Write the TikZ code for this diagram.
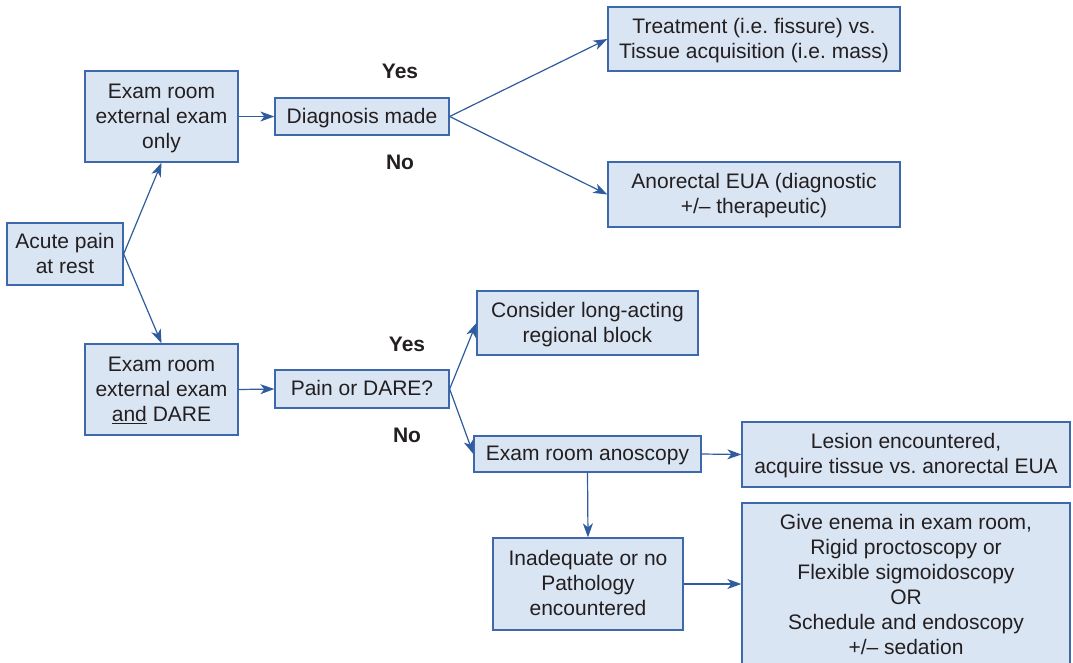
\documentclass[tikz,border=0pt]{standalone}
\usepackage{fontspec}
\setmainfont{Liberation Sans}
\usetikzlibrary{arrows.meta}
\definecolor{boxfill}{HTML}{DAE5F3}
\definecolor{boxline}{HTML}{3D68AC}
\definecolor{arrowc}{HTML}{2F5C9E}
\definecolor{txt}{HTML}{231F20}
\newcommand{\bt}[1]{\raisebox{-1.6pt}[\height][\depth]{\begin{tabular}{@{}c@{}}#1\end{tabular}}}
\frenchspacing
\tikzset{
  box/.style={draw=boxline, fill=boxfill, line width=1.3pt, rectangle, inner sep=0pt,
    text=txt, font=\fontsize{21}{25}\selectfont\frenchspacing},
  conn/.style={draw=arrowc, line width=1.2pt, -{Stealth[length=14pt,width=10pt,inset=4pt]}},
  lbl/.style={text=txt, font=\fontsize{21}{25}\selectfont\bfseries, inner sep=0pt}
}
\begin{document}
\begin{tikzpicture}[x=1pt,y=-1pt]
\useasboundingbox (0,0) rectangle (1073,662);
\node[box, minimum width=116pt, minimum height=62pt] (acute) at (65,254) {\bt{Acute pain\\at rest}};
\node[box, minimum width=153pt, minimum height=91pt] (extonly) at (161.5,116.5) {\bt{Exam room\\external exam\\only}};
\node[box, minimum width=153pt, minimum height=91pt] (extdare) at (161.5,389.5) {\bt{Exam room\\external exam\\\underline{and} DARE}};
\node[box, minimum width=174pt, minimum height=37pt] (diag) at (362,116.5) {\bt{Diagnosis made}};
\node[box, minimum width=292pt, minimum height=64pt] (treat) at (754,39) {\bt{Treatment (i.e. fissure) vs.\\Tissue acquisition (i.e. mass)}};
\node[box, minimum width=292pt, minimum height=65pt] (eua) at (754,194.5) {\bt{Anorectal EUA (diagnostic\\+/– therapeutic)}};
\node[box, minimum width=174pt, minimum height=38pt] (pain) at (362,389) {\bt{Pain or DARE?}};
\node[box, minimum width=221pt, minimum height=64pt] (consider) at (587.5,323) {\bt{Consider long-acting\\regional block}};
\node[box, minimum width=227pt, minimum height=36pt] (anos) at (587.5,454) {\bt{Exam room anoscopy}};
\node[box, minimum width=328pt, minimum height=65pt] (lesion) at (906,454.5) {\bt{Lesion encountered,\\acquire tissue vs. anorectal EUA}};
\node[box, minimum width=190pt, minimum height=92pt] (inad) at (588,584) {\bt{Inadequate or no\\Pathology\\encountered}};
\node[box, minimum width=328pt, minimum height=164pt] (enema) at (906,585) {\bt{Give enema in exam room,\\Rigid proctoscopy or\\Flexible sigmoidoscopy\\OR\\Schedule and endoscopy\\+/– sedation}};
\node[lbl] (yes1) at (400,71) {Yes};
\node[lbl] (no1) at (400,162) {No};
\node[lbl] (yes2) at (407,344) {Yes};
\node[lbl] (no2) at (407,435) {No};
\draw[conn] (acute.east) -- (extonly.south);
\draw[conn] (acute.east) -- (extdare.north);
\draw[conn] (extonly.east) -- (diag.west);
\draw[conn] (extdare.east) -- (pain.west);
\draw[conn] (diag.east) -- (treat.west);
\draw[conn] (diag.east) -- (eua.west);
\draw[conn] (pain.east) -- (consider.west);
\draw[conn] (pain.east) -- (anos.west);
\draw[conn] (anos.east) -- (lesion.west);
\draw[conn] (anos.south) -- (inad.north);
\draw[conn] (inad.east) -- (inad.east -| enema.west);
\end{tikzpicture}
\end{document}
